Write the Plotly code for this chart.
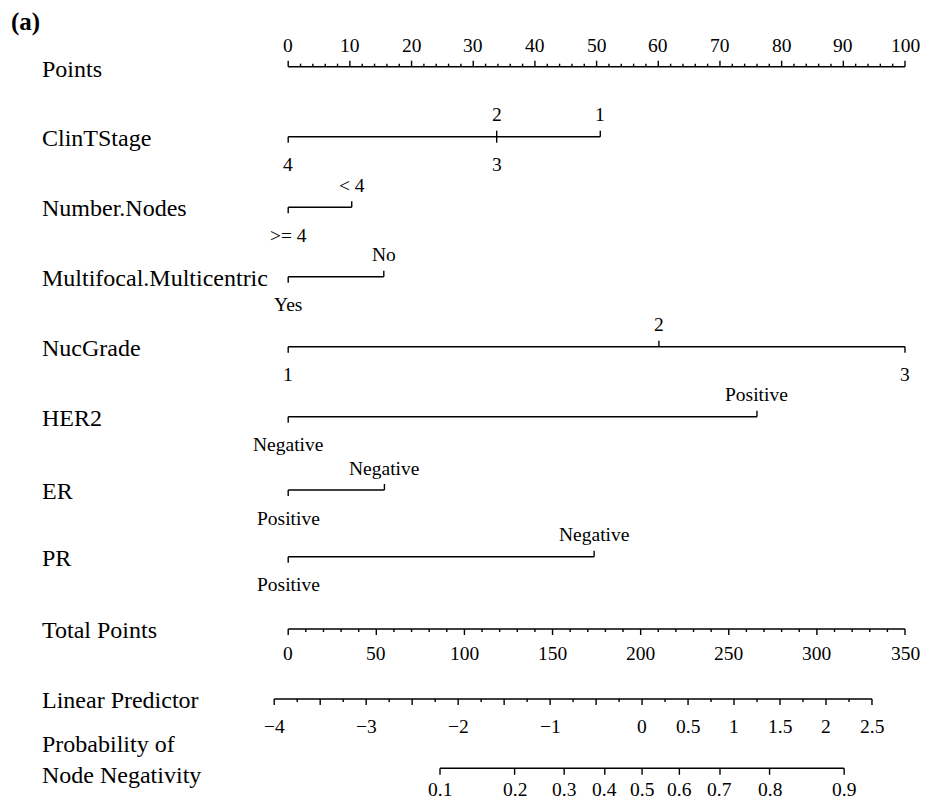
import math
import plotly.graph_objects as go

# ---------------- data ----------------
points_labels = [0, 10, 20, 30, 40, 50, 60, 70, 80, 90, 100]

var_names = ["ClinTStage", "Number.Nodes", "Multifocal.Multicentric",
             "NucGrade", "HER2", "ER", "PR"]
clin_levels = ["4", "2", "3", "1"]
clin_points = [0, 33.8, 33.8, 50.6]
nodes_levels = [">= 4", "< 4"]
nodes_points = [0, 10.3]
multi_levels = ["Yes", "No"]
multi_points = [0, 15.5]
nuc_levels = ["1", "2", "3"]
nuc_points = [0, 60.1, 100]
her2_levels = ["Negative", "Positive"]
her2_points = [0, 76.0]
er_levels = ["Positive", "Negative"]
er_points = [0, 15.6]
pr_levels = ["Positive", "Negative"]
pr_points = [0, 49.6]

total_labels = [0, 50, 100, 150, 200, 250, 300, 350]
lp_labels = [-4, -3, -2, -1, 0, 0.5, 1, 1.5, 2, 2.5]
prob_labels = [0.1, 0.2, 0.3, 0.4, 0.5, 0.6, 0.7, 0.8, 0.9]

# model scale: linear predictor = lp_intercept + lp_per_total * total points
lp_intercept = -3.848
lp_per_total = 0.019163
total_per_point = 3.5

# ---------------- layout constants ----------------
W, H = 933, 801
X0_PX, PX_PER_PT = 288.2, 6.168
XMIN = -X0_PX / PX_PER_PT
XMAX = (W - X0_PX) / PX_PER_PT
FONT = "Liberation Serif"
LBL_SIZE = 24
TICK_SIZE = 19.5
LINE_W = 1.4
COL = "black"

row_y = {
    "Points": 66.7, "ClinTStage": 136.7, "Number.Nodes": 207.3,
    "Multifocal.Multicentric": 276.7, "NucGrade": 346.7, "HER2": 416.7,
    "ER": 490, "PR": 556.7, "Total Points": 629, "Linear Predictor": 699,
    "Prob": 768.3,
}


def total_to_x(t):
    return t / total_per_point


def lp_to_x(lp):
    return total_to_x((lp - lp_intercept) / lp_per_total)


def prob_to_x(p):
    return lp_to_x(math.log(p / (1 - p)))


fig = go.Figure()
annotations = []
seg_x, seg_y = [], []


def seg(x0, y0, x1, y1):
    seg_x.extend([x0, x1, None])
    seg_y.extend([y0, y1, None])


def text(x, y, s, size, xanchor="center", bold=False):
    annotations.append(dict(
        x=x, y=y, xref="x", yref="y", text=("<b>%s</b>" % s) if bold else s,
        showarrow=False, xanchor=xanchor, yanchor="middle", align="left",
        borderpad=0,
        font=dict(family=FONT, size=size, color=COL)))


def fmt(v):
    s = ("%g" % v)
    return s.replace("-", "\u2212")


LEFT_X = (41 - X0_PX) / PX_PER_PT

# Points axis (labels above, ticks up)
y = row_y["Points"]
seg(points_labels[0], y, points_labels[-1], y)
p = points_labels[0]
while p <= points_labels[-1] + 1e-9:
    major = abs(p / 10 - round(p / 10)) < 1e-9
    seg(p, y, p, y - (6 if major else 3))
    p += 2
for v in points_labels:
    text(v, y - 21.7, fmt(v), TICK_SIZE)
text(LEFT_X, y + 2, "Points", LBL_SIZE, "left")

# Variable axes
var_levels = [clin_levels, nodes_levels, multi_levels, nuc_levels,
              her2_levels, er_levels, pr_levels]
var_points = [clin_points, nodes_points, multi_points, nuc_points,
              her2_points, er_points, pr_points]
for name, levs, pts in zip(var_names, var_levels, var_points):
    y = row_y[name]
    seg(min(pts), y, max(pts), y)
    for i, (lv, pv) in enumerate(zip(levs, pts)):
        if i % 2 == 0:
            seg(pv, y, pv, y + 6)
            text(pv, y + 28, lv, TICK_SIZE)
        else:
            seg(pv, y, pv, y - 6)
            text(pv, y - 22, lv, TICK_SIZE)
    text(LEFT_X, y + 1, name, LBL_SIZE, "left")

# Total points axis
y = row_y["Total Points"]
seg(total_to_x(total_labels[0]), y, total_to_x(total_labels[-1]), y)
t = total_labels[0]
while t <= total_labels[-1] + 1e-9:
    major = abs(t / 50 - round(t / 50)) < 1e-9
    seg(total_to_x(t), y, total_to_x(t), y + (6 if major else 3))
    t += 10
for v in total_labels:
    text(total_to_x(v), y + 24, fmt(v), TICK_SIZE)
text(LEFT_X, y + 1, "Total Points", LBL_SIZE, "left")

# Linear predictor axis
y = row_y["Linear Predictor"]
seg(lp_to_x(lp_labels[0]), y, lp_to_x(lp_labels[-1]), y)
v = lp_labels[0]
while v <= lp_labels[-1] + 1e-9:
    major = abs(v / 0.5 - round(v / 0.5)) < 1e-9
    seg(lp_to_x(v), y, lp_to_x(v), y + (6 if major else 3))
    v += 0.25
for v in lp_labels:
    text(lp_to_x(v), y + 27, fmt(v), TICK_SIZE)
text(LEFT_X, y + 1, "Linear Predictor", LBL_SIZE, "left")

# Probability axis
y = row_y["Prob"]
seg(prob_to_x(prob_labels[0]), y, prob_to_x(prob_labels[-1]), y)
for v in prob_labels:
    seg(prob_to_x(v), y, prob_to_x(v), y + 6.5)
    text(prob_to_x(v), y + 21.5, fmt(v), TICK_SIZE)
text(LEFT_X, y - 8.5, "Probability of<br>Node Negativity", LBL_SIZE, "left")

# panel tag
text((10 - X0_PX) / PX_PER_PT, 22, "(a)", 25, "left", bold=True)

fig.add_trace(go.Scatter(x=seg_x, y=seg_y, mode="lines",
                         line=dict(color=COL, width=LINE_W),
                         hoverinfo="skip", showlegend=False))

fig.update_layout(
    width=W, height=H, margin=dict(l=0, r=0, t=0, b=0),
    paper_bgcolor="white", plot_bgcolor="white",
    xaxis=dict(range=[XMIN, XMAX], visible=False, fixedrange=True),
    yaxis=dict(range=[H, 0], visible=False, fixedrange=True),
    annotations=annotations, showlegend=False,
)

fig.write_html("out.html")
